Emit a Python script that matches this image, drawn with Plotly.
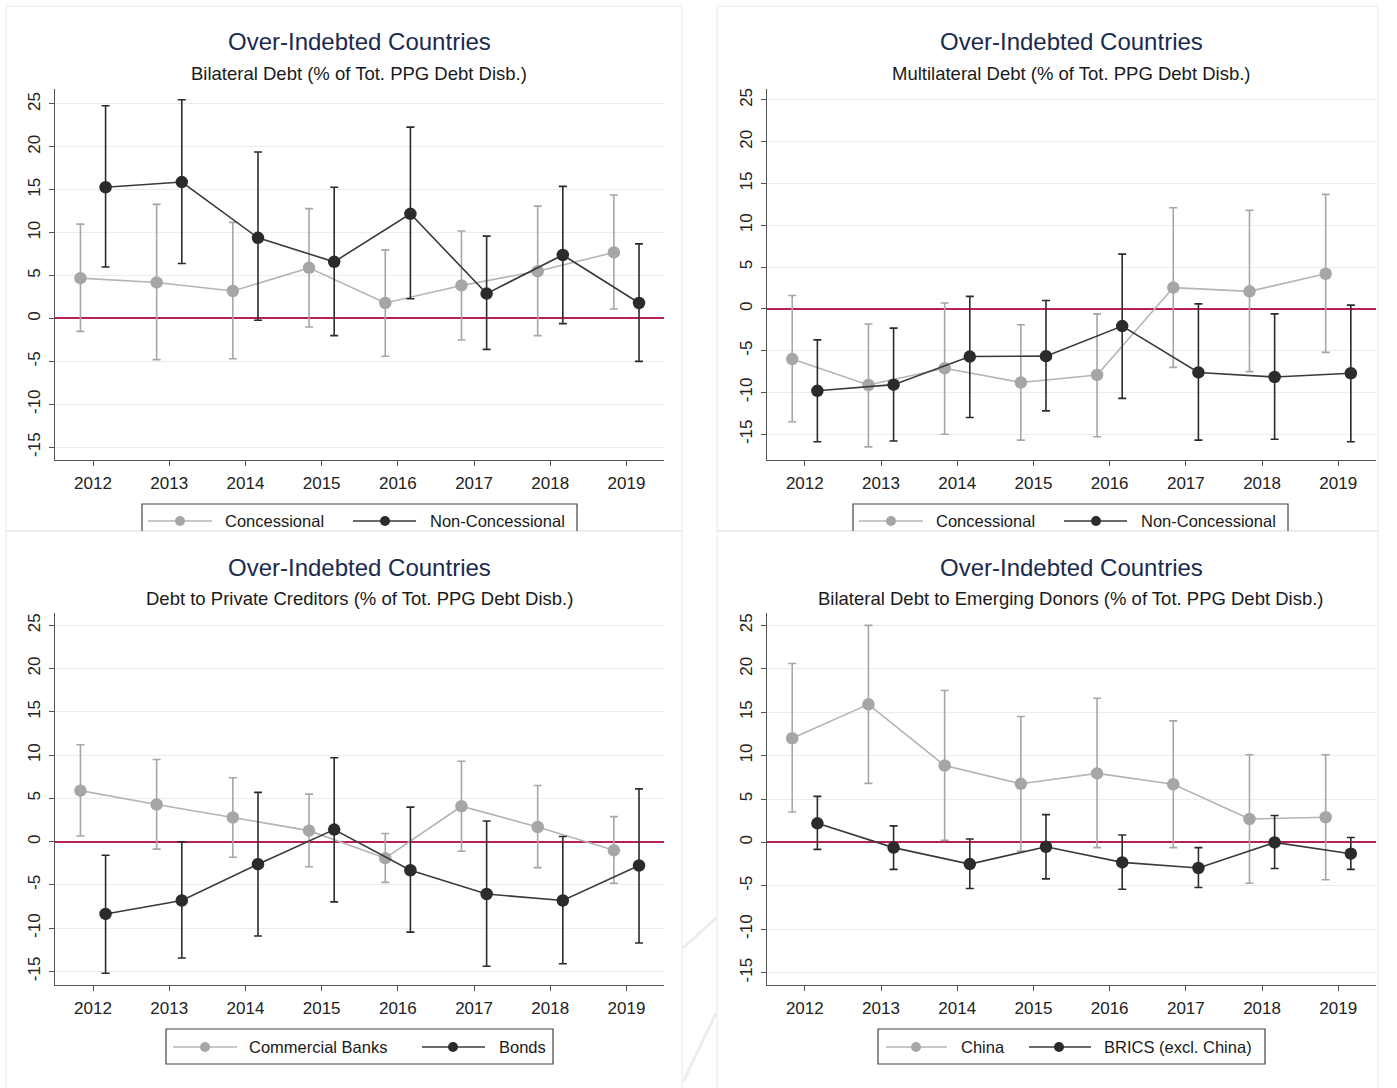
import plotly.graph_objects as go

W, H = 1397, 1088

# ---------------- data ----------------
years = [2012, 2013, 2014, 2015, 2016, 2017, 2018, 2019]
y_ticks = [-15, -10, -5, 0, 5, 10, 15, 20, 25]

# Bilateral debt
bil_conc = [4.7, 4.2, 3.2, 5.9, 1.8, 3.85, 5.5, 7.7]
bil_conc_hi = [11.0, 13.3, 11.2, 12.8, 8.0, 10.2, 13.1, 14.4]
bil_conc_lo = [-1.5, -4.8, -4.7, -1.0, -4.4, -2.5, -2.0, 1.1]
bil_nonc = [15.3, 15.9, 9.4, 6.6, 12.2, 2.9, 7.4, 1.8]
bil_nonc_hi = [24.8, 25.5, 19.4, 15.3, 22.3, 9.6, 15.4, 8.7]
bil_nonc_lo = [6.0, 6.4, -0.2, -2.0, 2.3, -3.6, -0.6, -5.0]

# Multilateral debt
mul_conc = [-6.0, -9.1, -7.1, -8.8, -7.9, 2.55, 2.1, 4.2]
mul_conc_hi = [1.6, -1.8, 0.7, -1.9, -0.6, 12.1, 11.8, 13.7]
mul_conc_lo = [-13.5, -16.5, -15.0, -15.7, -15.3, -7.0, -7.5, -5.2]
mul_nonc = [-9.8, -9.06, -5.7, -5.65, -2.06, -7.6, -8.15, -7.7]
mul_nonc_hi = [-3.7, -2.3, 1.5, 1.0, 6.55, 0.6, -0.6, 0.45]
mul_nonc_lo = [-15.9, -15.8, -13.0, -12.2, -10.7, -15.7, -15.6, -15.9]

# Debt to private creditors
priv_bank = [5.9, 4.3, 2.8, 1.28, -1.9, 4.1, 1.7, -1.0]
priv_bank_hi = [11.2, 9.5, 7.4, 5.5, 0.95, 9.3, 6.5, 2.9]
priv_bank_lo = [0.66, -0.86, -1.8, -2.9, -4.7, -1.1, -3.0, -4.8]
priv_bond = [-8.35, -6.8, -2.6, 1.4, -3.3, -6.05, -6.8, -2.75]
priv_bond_hi = [-1.56, 0.0, 5.7, 9.7, 4.0, 2.4, 0.6, 6.1]
priv_bond_lo = [-15.2, -13.45, -10.9, -6.95, -10.45, -14.4, -14.1, -11.7]

# Bilateral debt to emerging donors
emg_china = [12.0, 15.9, 8.85, 6.75, 7.95, 6.7, 2.7, 2.9]
emg_china_hi = [20.6, 25.0, 17.5, 14.5, 16.6, 14.0, 10.1, 10.1]
emg_china_lo = [3.5, 6.8, 0.25, -1.0, -0.6, -0.6, -4.7, -4.3]
emg_brics = [2.2, -0.6, -2.5, -0.5, -2.3, -2.95, 0.0, -1.3]
emg_brics_hi = [5.3, 1.9, 0.4, 3.2, 0.86, -0.6, 3.1, 0.57]
emg_brics_lo = [-0.8, -3.1, -5.3, -4.2, -5.4, -5.2, -3.0, -3.1]

main_title = "Over-Indebted Countries"
subtitles = [
    "Bilateral Debt (% of Tot. PPG Debt Disb.)",
    "Multilateral Debt (% of Tot. PPG Debt Disb.)",
    "Debt to Private Creditors (% of Tot. PPG Debt Disb.)",
    "Bilateral Debt to Emerging Donors (% of Tot. PPG Debt Disb.)",
]
legend_names = [
    ("Concessional", "Non-Concessional"),
    ("Concessional", "Non-Concessional"),
    ("Commercial Banks", "Bonds"),
    ("China", "BRICS (excl. China)"),
]
series = [
    ((bil_conc, bil_conc_lo, bil_conc_hi), (bil_nonc, bil_nonc_lo, bil_nonc_hi)),
    ((mul_conc, mul_conc_lo, mul_conc_hi), (mul_nonc, mul_nonc_lo, mul_nonc_hi)),
    ((priv_bank, priv_bank_lo, priv_bank_hi), (priv_bond, priv_bond_lo, priv_bond_hi)),
    ((emg_china, emg_china_lo, emg_china_hi), (emg_brics, emg_brics_lo, emg_brics_hi)),
]

# ---------------- styling / layout ----------------
FONT = "Liberation Sans, Arial, sans-serif"
NAVY = "#1b2a4e"
LIGHT = "#a6a6a6"
LIGHT_LINE = "#b4b4b4"
DARK = "#2b2b2b"
DARK_LINE = "#3a3a3a"
ZERO = "#b8214d"
AXIS = "#555555"
GRID = "#ececec"
BORDER = "#e3e7eb"


def px(x):
    return x / W


def py(y):
    return 1 - y / H


# plot-area pixel boxes: (left, right, top, bottom), y ranges, panel frames
panels = [
    dict(box=(54.9, 663.8, 88.8, 459.7), yr=(-16.46, 26.77), frame=(6, 682, 6, 531), ty=0),
    dict(box=(766.7, 1375.6, 88.8, 459.7), yr=(-18.04, 26.33), frame=(717, 1378, 6, 531), ty=0),
    dict(box=(54.9, 663.8, 612.6, 984.8), yr=(-16.54, 26.48), frame=(6, 682, 531, 1092), ty=525),
    dict(box=(766.7, 1375.6, 612.6, 984.8), yr=(-16.4, 26.47), frame=(717, 1378, 531, 1092), ty=525),
]

# legend geometry per panel (pixels)
legends = [
    dict(box=(142, 577, 504, None), yc=521, l1=(148, 212, 180, 223), l2=(353, 416, 385, 428)),
    dict(box=(853, 1288, 504, None), yc=521, l1=(859, 923, 891, 934), l2=(1064, 1127, 1096, 1139)),
    dict(box=(166, 553, 1029, 1064), yc=1047, l1=(173, 237, 205, 247), l2=(422, 485, 453, 497)),
    dict(box=(878, 1265, 1029, 1064), yc=1047, l1=(886, 947, 916, 959), l2=(1029, 1091, 1059, 1102)),
]

OFF = 0.165

fig = go.Figure()
shapes = []
annotations = []
layout_axes = {}

for i, p in enumerate(panels):
    n = i + 1
    xa = "x" if n == 1 else f"x{n}"
    ya = "y" if n == 1 else f"y{n}"
    l, r, t, b = p["box"]

    for k, ((vals, lo, hi), col, lcol, name) in enumerate(
        zip(series[i], (LIGHT, DARK), (LIGHT_LINE, DARK_LINE), legend_names[i])
    ):
        xs = [yr + (-OFF if k == 0 else OFF) for yr in years]
        fig.add_trace(
            go.Scatter(
                x=xs,
                y=vals,
                xaxis=xa,
                yaxis=ya,
                mode="lines+markers",
                name=name,
                showlegend=False,
                line=dict(color=lcol, width=1.6),
                marker=dict(color=col, size=12.5),
                error_y=dict(
                    type="data",
                    symmetric=False,
                    array=[h - v for h, v in zip(hi, vals)],
                    arrayminus=[v - lo_ for v, lo_ in zip(vals, lo)],
                    color=col,
                    thickness=1.6,
                    width=4,
                ),
            )
        )

    axis_common = dict(
        showline=True,
        linecolor=AXIS,
        linewidth=1.2,
        ticks="outside",
        ticklen=5,
        tickcolor=AXIS,
        tickfont=dict(family=FONT, size=17, color="#222222"),
    )
    layout_axes["xaxis" if n == 1 else f"xaxis{n}"] = dict(
        axis_common,
        domain=[px(l), px(r)],
        range=[2011.5, 2019.49],
        anchor=ya,
        tickmode="array",
        tickvals=years,
        ticktext=[str(v) for v in years],
        showgrid=False,
        zeroline=False,
        ticklabelstandoff=3,
    )
    # the red zero line is the axis zeroline: above the grid, below the data
    layout_axes["yaxis" if n == 1 else f"yaxis{n}"] = dict(
        axis_common,
        domain=[py(b), py(t)],
        range=list(p["yr"]),
        anchor=xa,
        tickmode="array",
        tickvals=y_ticks,
        ticktext=[str(v) for v in y_ticks],
        tickangle=-90,
        showgrid=True,
        gridcolor=GRID,
        gridwidth=1,
        zeroline=True,
        zerolinecolor=ZERO,
        zerolinewidth=2,
        ticklabelstandoff=2,
    )

    # faint panel frame
    fl, fr, ft, fb = p["frame"]
    shapes.append(
        dict(
            type="rect",
            xref="paper",
            yref="paper",
            x0=px(fl),
            x1=px(fr),
            y0=py(fb),
            y1=py(ft),
            line=dict(color=BORDER, width=1),
            layer="below",
        )
    )

    # titles
    cx = (l + r) / 2
    annotations.append(
        dict(
            text=main_title,
            x=px(cx),
            y=py(42 + p["ty"]),
            xref="paper",
            yref="paper",
            showarrow=False,
            xanchor="center",
            yanchor="middle",
            font=dict(family=FONT, size=24, color=NAVY),
        )
    )
    annotations.append(
        dict(
            text=subtitles[i],
            x=px(cx),
            y=py(73 + p["ty"]),
            xref="paper",
            yref="paper",
            showarrow=False,
            xanchor="center",
            yanchor="middle",
            font=dict(family=FONT, size=18.5, color="#1a1a1a"),
        )
    )

# hand-drawn legends
for i, lg in enumerate(legends):
    bl, br, bt, bb = lg["box"]
    if bb is None:
        # box is cut by the panel below: only top and sides are visible
        path = f"M {px(bl)},{py(531)} L {px(bl)},{py(bt)} L {px(br)},{py(bt)} L {px(br)},{py(531)}"
        shapes.append(
            dict(type="path", xref="paper", yref="paper", path=path,
                 line=dict(color="#444444", width=1.2))
        )
    else:
        shapes.append(
            dict(type="rect", xref="paper", yref="paper",
                 x0=px(bl), x1=px(br), y0=py(bb), y1=py(bt),
                 line=dict(color="#444444", width=1.2))
        )
    yc = lg["yc"]
    for (x0, x1, mx, tx), col, lcol, name in zip(
        (lg["l1"], lg["l2"]), (LIGHT, DARK), (LIGHT_LINE, DARK_LINE), legend_names[i]
    ):
        shapes.append(
            dict(type="line", xref="paper", yref="paper",
                 x0=px(x0), x1=px(x1), y0=py(yc), y1=py(yc),
                 line=dict(color=lcol, width=1.6))
        )
        rad = 5
        shapes.append(
            dict(type="circle", xref="paper", yref="paper",
                 x0=px(mx - rad), x1=px(mx + rad), y0=py(yc + rad), y1=py(yc - rad),
                 fillcolor=col, line=dict(color=col, width=0))
        )
        annotations.append(
            dict(text=name, x=px(tx), y=py(yc), xref="paper", yref="paper",
                 showarrow=False, xanchor="left", yanchor="middle",
                 font=dict(family=FONT, size=16.5, color="#1a1a1a"))
        )

# faint watermark strokes between the lower panels
for (xa_, ya_, xb_, yb_) in [(683, 948, 716, 918), (683, 1082, 716, 1013)]:
    shapes.append(
        dict(type="line", xref="paper", yref="paper",
             x0=px(xa_), x1=px(xb_), y0=py(ya_), y1=py(yb_),
             line=dict(color="#ededed", width=3), layer="below")
    )

fig.update_layout(
    width=W,
    height=H,
    autosize=False,
    margin=dict(l=0, r=0, t=0, b=0),
    paper_bgcolor="white",
    plot_bgcolor="rgba(0,0,0,0)",
    showlegend=False,
    shapes=shapes,
    annotations=annotations,
    **layout_axes,
)

fig.write_html("out.html")
